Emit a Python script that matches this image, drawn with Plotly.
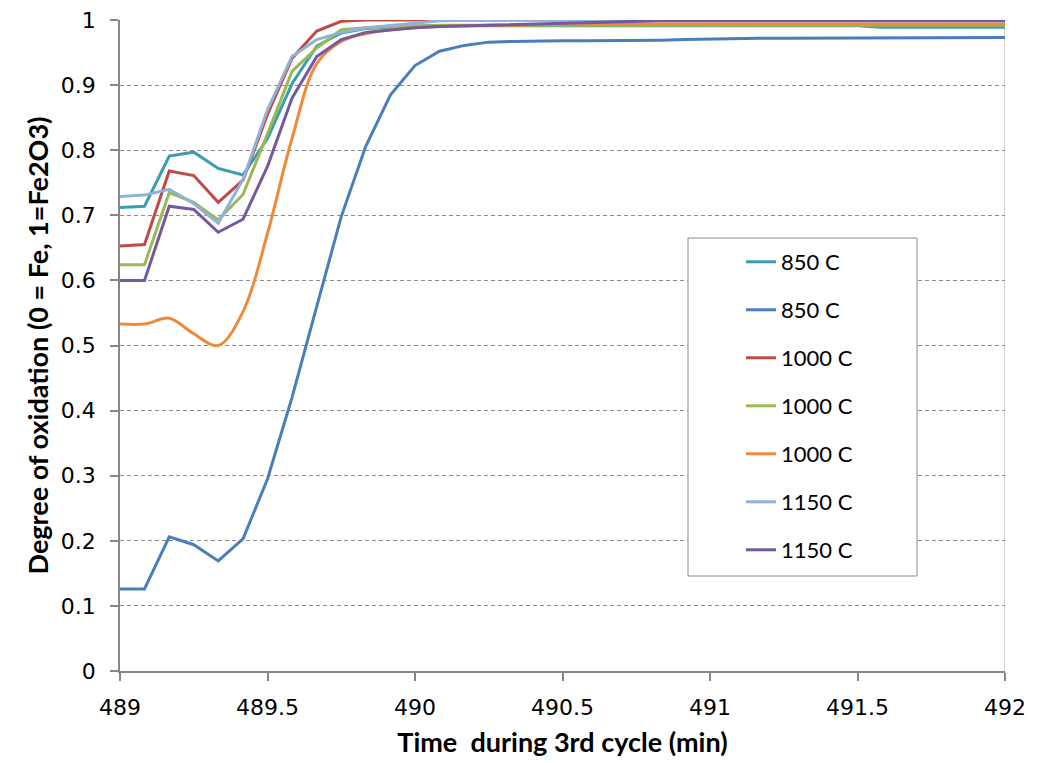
import plotly.graph_objects as go

time_min = [489.000, 489.083, 489.167, 489.250, 489.333, 489.417, 489.500, 489.583,
            489.667, 489.750, 489.833, 489.917, 490.000, 490.083, 490.167, 490.250,
            490.333, 490.417, 490.500, 490.583, 490.667, 490.750, 490.833, 490.917,
            491.000, 491.083, 491.167, 491.250, 491.333, 491.417, 491.500, 491.583,
            491.667, 491.750, 491.833, 491.917, 492.000]

s850_a = [0.712, 0.714, 0.791, 0.797, 0.772, 0.762, 0.818, 0.902, 0.960, 0.980,
          0.987, 0.989, 0.990, 0.991, 0.991, 0.991, 0.991, 0.991, 0.991, 0.991,
          0.991, 0.991, 0.991, 0.991, 0.991, 0.991, 0.991, 0.991, 0.991, 0.991,
          0.991, 0.989, 0.989, 0.989, 0.989, 0.989, 0.989]
s850_b = [0.126, 0.126, 0.206, 0.194, 0.169, 0.203, 0.295, 0.420, 0.560, 0.698,
          0.806, 0.885, 0.930, 0.952, 0.961, 0.966, 0.967, 0.968, 0.968, 0.968,
          0.968, 0.968, 0.969, 0.970, 0.971, 0.971, 0.972, 0.972, 0.972, 0.973,
          0.973, 0.973, 0.973, 0.973, 0.973, 0.973, 0.973]
s1000_a = [0.653, 0.655, 0.768, 0.761, 0.720, 0.754, 0.855, 0.941, 0.983, 0.998,
           1.000, 1.000, 1.000, 1.000, 1.000, 1.000, 1.000, 1.000, 1.000, 1.000,
           1.000, 1.000, 1.000, 1.000, 1.000, 1.000, 1.000, 1.000, 1.000, 1.000,
           1.000, 1.000, 1.000, 1.000, 1.000, 1.000, 1.000]
s1000_b = [0.624, 0.624, 0.735, 0.720, 0.693, 0.732, 0.825, 0.921, 0.957, 0.985,
           0.988, 0.990, 0.991, 0.992, 0.992, 0.992, 0.992, 0.992, 0.992, 0.992,
           0.992, 0.992, 0.992, 0.992, 0.992, 0.992, 0.992, 0.992, 0.992, 0.992,
           0.992, 0.992, 0.992, 0.992, 0.992, 0.992, 0.992]
s1000_c = [0.533, 0.533, 0.542, 0.518, 0.500, 0.552, 0.672, 0.818, 0.933, 0.967,
           0.979, 0.985, 0.988, 0.990, 0.991, 0.992, 0.992, 0.993, 0.993, 0.993,
           0.994, 0.994, 0.994, 0.994, 0.994, 0.994, 0.994, 0.994, 0.994, 0.994,
           0.994, 0.994, 0.994, 0.994, 0.994, 0.994, 0.994]
s1150_a = [0.729, 0.731, 0.740, 0.718, 0.688, 0.755, 0.862, 0.944, 0.970, 0.981,
           0.988, 0.991, 0.995, 0.999, 1.000, 1.000, 1.000, 1.000, 1.000, 1.000,
           1.000, 1.000, 1.000, 1.000, 1.000, 1.000, 1.000, 1.000, 1.000, 1.000,
           1.000, 1.000, 1.000, 1.000, 1.000, 1.000, 1.000]
s1150_b = [0.600, 0.600, 0.714, 0.709, 0.674, 0.694, 0.775, 0.880, 0.944, 0.970,
           0.981, 0.985, 0.988, 0.990, 0.991, 0.993, 0.994, 0.995, 0.996, 0.997,
           0.998, 0.999, 0.999, 0.999, 0.999, 0.999, 0.999, 0.999, 0.999, 0.999,
           0.999, 0.999, 0.999, 0.999, 0.999, 0.999, 0.999]

series_names = ["850 C", "850 C", "1000 C", "1000 C", "1000 C", "1150 C", "1150 C"]
series_values = [s850_a, s850_b, s1000_a, s1000_b, s1000_c, s1150_a, s1150_b]
series_colors = ["#3A9DB1", "#4A7EBB", "#BE4B48", "#98B954", "#EE8A38", "#92B1D8", "#7459A0"]
series_shapes = ["linear", "linear", "linear", "linear", "spline", "linear", "linear"]

x_ticks = [489, 489.5, 490, 490.5, 491, 491.5, 492]
y_ticks = [0, 0.1, 0.2, 0.3, 0.4, 0.5, 0.6, 0.7, 0.8, 0.9, 1]

fig = go.Figure()
for i, (name, vals, col, shp) in enumerate(zip(series_names, series_values, series_colors, series_shapes)):
    fig.add_trace(go.Scatter(
        x=time_min, y=vals, name=name, mode="lines",
        line=dict(color=col, width=3, shape=shp),
        legendgroup=f"g{i}",
    ))

# legend box
fig.add_shape(type="rect", xref="paper", yref="paper",
              x0=(688 - 120) / 885, x1=(917 - 120) / 885,
              y0=(668 - 573) / 651, y1=(668 - 235) / 651,
              line=dict(color="#8C8C8C", width=1), fillcolor="white", layer="above")
# right border line
fig.add_shape(type="line", xref="x", yref="paper", x0=492, x1=492, y0=-0.012, y1=1,
              line=dict(color="#BFBFBF", width=1.5), layer="below")

tick_font = dict(family="DejaVu Sans", size=22, color="black")
title_font = dict(family="Lato", size=27, color="black", weight="bold")

fig.update_layout(
    width=1041, height=763,
    margin=dict(l=112, r=44, t=12, b=100),
    paper_bgcolor="white", plot_bgcolor="white",
    showlegend=True,
    legend=dict(
        x=(741 - 120) / 885, y=(668 - 238) / 651, xanchor="left", yanchor="top",
        bgcolor="rgba(0,0,0,0)", borderwidth=0,
        font=dict(family="Lato", size=22, color="black"),
        tracegroupgap=16.4, itemwidth=30,
    ),
    xaxis=dict(
        range=[489, 492], tickvals=x_ticks, ticktext=[f"{v:g}" for v in x_ticks],
        showgrid=False, zeroline=False, automargin=False,
        showline=True, linecolor="#868686", linewidth=1.5,
        ticks="outside", ticklen=8, tickcolor="#868686", tickwidth=1.5,
        tickfont=tick_font, ticklabelstandoff=8, ticklabeloverflow="allow",
        title=dict(text="Time\u00a0\u00a0during 3rd cycle (min)", font=title_font, standoff=14),
    ),
    yaxis=dict(
        range=[0, 1], tickvals=y_ticks, ticktext=[f"{v:g}" for v in y_ticks],
        showgrid=True, gridcolor="#8C8C8C", gridwidth=1, griddash="4px,3px",
        zeroline=False, automargin=False,
        showline=True, linecolor="#868686", linewidth=1.5,
        ticks="outside", ticklen=8, tickcolor="#868686", tickwidth=1.5,
        tickfont=tick_font, ticklabelstandoff=10, ticklabeloverflow="allow",
        title=dict(text="Degree of oxidation (0 = Fe, 1=Fe2O3)", font=title_font, standoff=4),
    ),
)

fig.write_html("out.html")
